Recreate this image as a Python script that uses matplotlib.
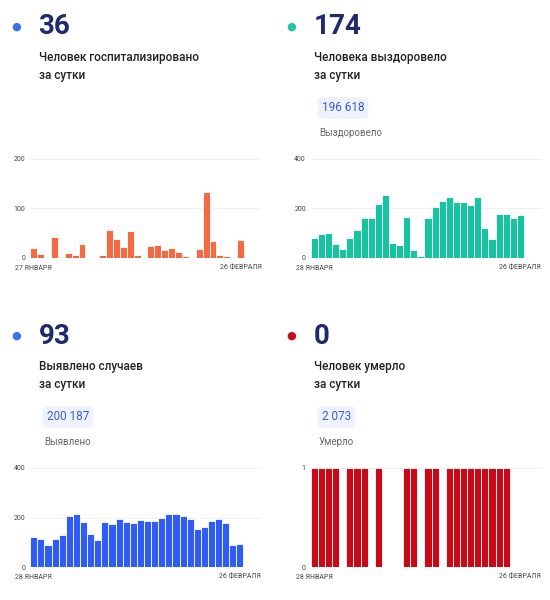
import matplotlib.pyplot as plt
import numpy as np

hosp = [20, 9, 0, 42, 2, 11, 7, 29, 0, 2, 7, 57, 38, 23, 55, 6, 0, 24, 27, 17, 21, 13, 5, 0, 19, 133, 35, 7, 4, 0, 36]
recov = [80, 95, 100, 55, 38, 80, 115, 160, 160, 218, 255, 60, 52, 165, 33, 8, 162, 205, 232, 245,
         228, 225, 215, 245, 120, 78, 178, 178, 163, 173]
cases = [123, 115, 87, 115, 128, 205, 215, 183, 133, 108, 180, 172, 195, 180, 178, 188, 187, 185, 200, 213,
         213, 207, 193, 152, 163, 185, 193, 178, 88, 92]
deaths = [1, 1, 1, 1, 0, 1, 1, 1, 0, 1, 0, 0, 0, 1, 1, 0, 1, 1, 0, 1, 1, 1, 1, 1, 1, 1, 1, 1, 0, 0]

panels = [
    dict(num="36", color_dot="#3b6ff0", label="Человек госпитализировано\nза сутки", total=None, tlabel=None,
         data=hosp, bar="#f26b43", ticks=[0, 100, 200], ylim=200, start="27 ЯНВАРЯ"),
    dict(num="174", color_dot="#1ec9a4", label="Человека выздоровело\nза сутки", total="196 618", tlabel="Выздоровело",
         data=recov, bar="#17c3a0", ticks=[0, 200, 400], ylim=400, start="28 ЯНВАРЯ"),
    dict(num="93", color_dot="#3b6ff0", label="Выявлено случаев\nза сутки", total="200 187", tlabel="Выявлено",
         data=cases, bar="#2f5cf5", ticks=[0, 200, 400], ylim=400, start="28 ЯНВАРЯ"),
    dict(num="0", color_dot="#c40f1c", label="Человек умерло\nза сутки", total="2 073", tlabel="Умерло",
         data=deaths, bar="#c80a18", ticks=[0, 1], ylim=1, start="28 ЯНВАРЯ"),
]

fig = plt.figure(figsize=(5.5, 6), dpi=100)
plt.rcParams['font.family'] = ['Roboto', 'DejaVu Sans']
navy = "#1d2a6b"

for i, p in enumerate(panels):
    col, row = i % 2, i // 2
    x0 = 0.03 + col * 0.5
    y0 = 1 - row * 0.515
    fig.text(x0 - 0.01, y0 - 0.045, "●", color=p["color_dot"], fontsize=8, va="center")
    fig.text(x0 + 0.04, y0 - 0.045, p["num"], color=navy, fontsize=20, fontweight="bold", va="center")
    fig.text(x0 + 0.04, y0 - 0.085, p["label"], color="#222222", fontsize=8.5, fontweight="medium",
             va="top", linespacing=1.5)
    if p["total"]:
        fig.text(x0 + 0.055, y0 - 0.18, p["total"], color="#3b5bd6", fontsize=8.5, va="center",
                 bbox=dict(boxstyle="round,pad=0.35", fc="#eef2fc", ec="none"))
        fig.text(x0 + 0.05, y0 - 0.222, p["tlabel"], color="#666666", fontsize=7, va="center")

    ax = fig.add_axes([x0 + 0.025 + (0.01 if col else 0), y0 - 0.43, 0.42, 0.165])
    d = p["data"]
    x = np.arange(len(d))
    ax.bar(x, d, width=1.0, color=p["bar"], edgecolor="white", linewidth=0.6)
    ax.set_ylim(0, p["ylim"])
    ax.set_xlim(-0.5, len(d) + 2)
    ax.set_yticks(p["ticks"])
    ax.tick_params(axis="y", labelsize=5, length=0, colors="#444444")
    ax.set_xticks([0, len(d) - 1])
    ax.set_xticklabels([p["start"], "26 ФЕВРАЛЯ"], fontsize=5, color="#444444")
    ax.tick_params(axis="x", length=0, pad=5)
    ax.grid(axis="y", color="#eeeeee", linewidth=0.6)
    ax.set_axisbelow(True)
    for s in ax.spines.values():
        s.set_visible(False)

fig.savefig("out.png")
